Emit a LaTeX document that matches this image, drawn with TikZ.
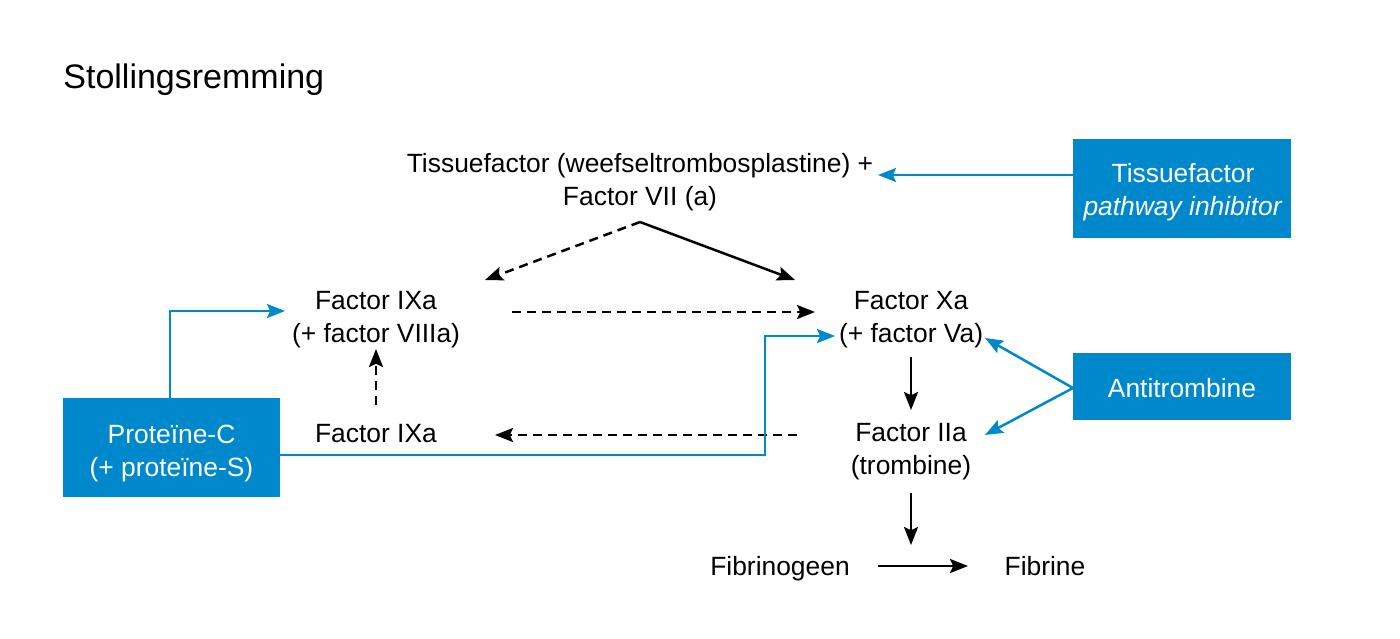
\documentclass[tikz,border=0pt]{standalone}
\usepackage{fontspec}
\setmainfont{Liberation Sans}
\usetikzlibrary{arrows.meta}
\definecolor{pblue}{RGB}{0,136,204}
\begin{document}
\begin{tikzpicture}[x=0.5pt,y=-0.5pt,
  txt/.style={align=center,inner sep=0pt,font=\fontsize{13.2}{16.5}\selectfont},
  bbox/.style={fill=pblue,inner sep=0pt,minimum width=109pt},
  wtxt/.style={txt,text=white},
  arr/.style={line width=1.25pt,-{Stealth[length=9pt,width=7pt,inset=1.6pt]}},
  darr/.style={arr,dash pattern=on 4.5pt off 3pt},
  barr/.style={arr,draw=pblue}]
\useasboundingbox (0,0) rectangle (1400,638);

\node[anchor=base west,inner sep=0pt,font=\fontsize{17}{20}\selectfont] (title) at (63,88) {Stollingsremming};

\node[bbox,minimum height=49.5pt] (tfpibox) at (1182,188.5) {};
\node[bbox,minimum height=33.5pt] (atbox) at (1182,386.5) {};
\node[bbox,minimum width=108.5pt,minimum height=49.5pt] (pcbox) at (171.5,447.5) {};

\node[txt] (tf) at (640,182.5) {Tissuefactor (weefseltrombosplastine) +\\Factor VII (a)};
\node[wtxt] (tfpi) at (1183,192.5) {Tissuefactor\\\textit{pathway inhibitor}};
\node[txt] (ix8) at (376,319.5) {Factor IXa\\(+ factor VIIIa)};
\node[txt] (x5) at (911,319.5) {Factor Xa\\(+ factor Va)};
\node[wtxt] (at) at (1182,388.5) {Antitrombine};
\node[txt,anchor=base] (ix) at (376,442) {Factor IXa};
\node[txt] (iia) at (911,451.5) {Factor IIa\\(trombine)};
\node[wtxt] (pc) at (171.5,454) {Proteïne-C\\(+ proteïne-S)};
\node[txt,anchor=base] (fg) at (780,575) {Fibrinogeen};
\node[txt,anchor=base] (fb) at (1045,575) {Fibrine};

% connector endpoints
\coordinate (tfA) at (878,175);
\coordinate (tfB) at (640,222);
\coordinate (ix8N) at (485,280);
\coordinate (x5N) at (795,280);
\coordinate (ix8E) at (512,312);
\coordinate (x5W) at (815,312);
\coordinate (x5L) at (835,336);
\coordinate (x5E) at (985,338);
\coordinate (iiaE) at (985,435);
\coordinate (atW) at (1073,388);
\coordinate (x5S) at (911,357);
\coordinate (iiaN) at (911,410);
\coordinate (iiaS) at (911,493);
\coordinate (fgS) at (911,545);
\coordinate (ixN) at (376,405);
\coordinate (ix8S) at (376,349);
\coordinate (iiaW) at (797,435);
\coordinate (ixE) at (495,435);
\coordinate (ix8W) at (285,311);
\coordinate (fgE) at (878,566);
\coordinate (fbW) at (968,566);

\draw[barr] (tfpibox.west |- tfA) -- (tfA);
\draw[darr] (tfB) -- (ix8N);
\draw[arr] (tfB) -- (x5N);
\draw[darr] (ix8E) -- (x5W);
\draw[barr] (atW) -- (x5E);
\draw[barr] (atW) -- (iiaE);
\draw[arr] (x5S) -- (iiaN);
\draw[arr] (iiaS) -- (fgS);
\draw[darr] (ixN) -- (ix8S);
\draw[darr] (iiaW) -- (ixE);
\draw[barr] (pcbox.north -| 170,0) -- (170,311) -- (ix8W);
\draw[barr] (pcbox.east |- 0,455) -- (765,455) -- (765,336) -- (x5L);
\draw[arr] (fgE) -- (fbW);
\end{tikzpicture}
\end{document}
